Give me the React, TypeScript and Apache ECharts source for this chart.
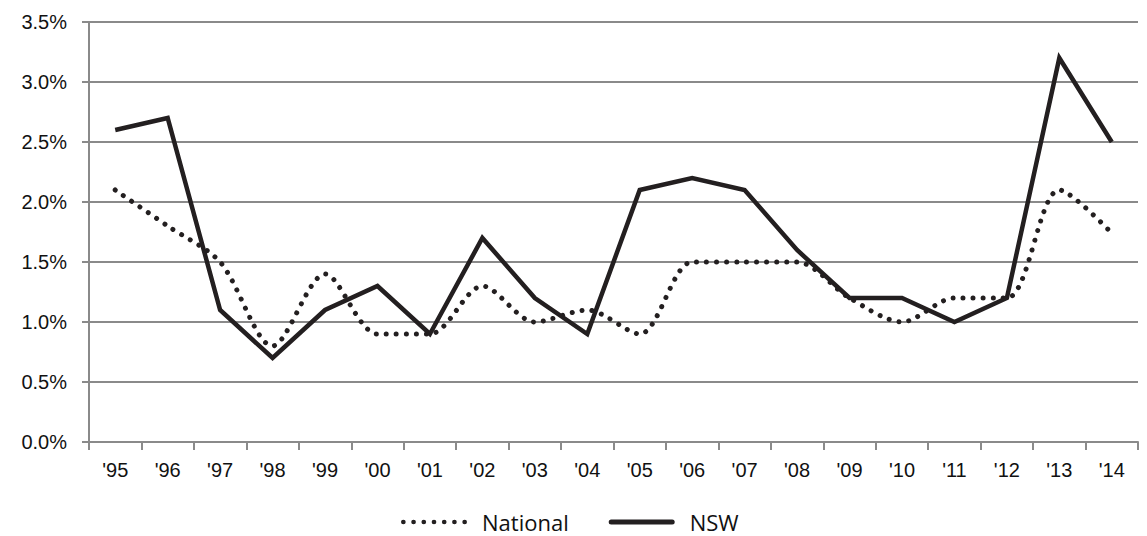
import React, { useEffect, useRef } from "react";
import * as echarts from "echarts";

const years = ["'95", "'96", "'97", "'98", "'99", "'00", "'01", "'02", "'03", "'04", "'05", "'06", "'07", "'08", "'09", "'10", "'11", "'12", "'13", "'14"];
const national = [2.1, 1.8, 1.5, 0.8, 1.4, 0.9, 0.9, 1.3, 1.0, 1.1, 0.9, 1.5, 1.5, 1.5, 1.2, 1.0, 1.2, 1.2, 2.1, 1.74];
const nsw = [2.6, 2.7, 1.1, 0.7, 1.1, 1.3, 0.9, 1.7, 1.2, 0.9, 2.1, 2.2, 2.1, 1.6, 1.2, 1.2, 1.0, 1.2, 3.2, 2.5];

const INK = "#231f20";
const GRID = "#8a8a8a";

function dotsPath(n: number, gap: number, r: number) {
  let d = "";
  for (let i = 0; i < n; i++) {
    const cx = r + i * gap;
    d += `M${cx - r} ${r}A${r} ${r} 0 1 0 ${cx + r} ${r}A${r} ${r} 0 1 0 ${cx - r} ${r}Z`;
  }
  return "path://" + d;
}
const barPath = "path://M2.5 0L63.5 0A2.5 2.5 0 0 1 63.5 5L2.5 5A2.5 2.5 0 0 1 2.5 0Z";

export default function App() {
  const ref = useRef<HTMLDivElement>(null);
  useEffect(() => {
    document.body.style.margin = "0";
    const chart = echarts.init(ref.current!, null, { renderer: "svg" });
    chart.setOption({
      animation: false,
      backgroundColor: "#ffffff",
      grid: { left: 89, right: 9, top: 22, bottom: 94, containLabel: false },
      legend: {
        left: 401,
        top: 510,
        padding: 0,
        itemGap: 40,
        itemWidth: 66,
        itemHeight: 5,
        textStyle: { fontFamily: "Open Sans", fontSize: 22, lineHeight: 24, color: "#111", padding: [0, 0, 0, 10] },
        data: [
          { name: "National", icon: dotsPath(7, 10, 2.3), itemStyle: { color: INK } },
          { name: "NSW", icon: barPath, itemStyle: { color: INK } },
        ],
      },
      xAxis: {
        type: "category",
        data: years,
        boundaryGap: true,
        axisLine: { lineStyle: { color: GRID, width: 2 } },
        axisTick: { show: true, length: 8, lineStyle: { color: GRID, width: 2 } },
        axisLabel: { fontFamily: "Liberation Sans", fontSize: 20, color: "#111", margin: 18 },
        splitLine: { show: false },
      },
      yAxis: {
        type: "value",
        min: 0,
        max: 3.5,
        interval: 0.5,
        axisLine: { show: true, lineStyle: { color: GRID, width: 2 } },
        axisTick: { show: true, length: 7, lineStyle: { color: GRID, width: 2 } },
        axisLabel: {
          fontFamily: "Liberation Sans",
          fontSize: 20,
          color: "#111",
          margin: 22,
          formatter: (v: number) => v.toFixed(1) + "%",
        },
        splitLine: { show: true, lineStyle: { color: GRID, width: 2 } },
      },
      series: [
        {
          name: "National",
          type: "line",
          data: national,
          symbol: "none",
          smooth: 0.3,
          lineStyle: { color: INK, width: 5, type: [0.01, 10], cap: "round" },
          itemStyle: { color: INK },
        },
        {
          name: "NSW",
          type: "line",
          data: nsw,
          symbol: "none",
          lineStyle: { color: INK, width: 4.5, join: "miter" },
          itemStyle: { color: INK },
        },
      ],
    });
    return () => chart.dispose();
  }, []);
  return <div ref={ref} style={{ width: 1147, height: 536 }} />;
}
